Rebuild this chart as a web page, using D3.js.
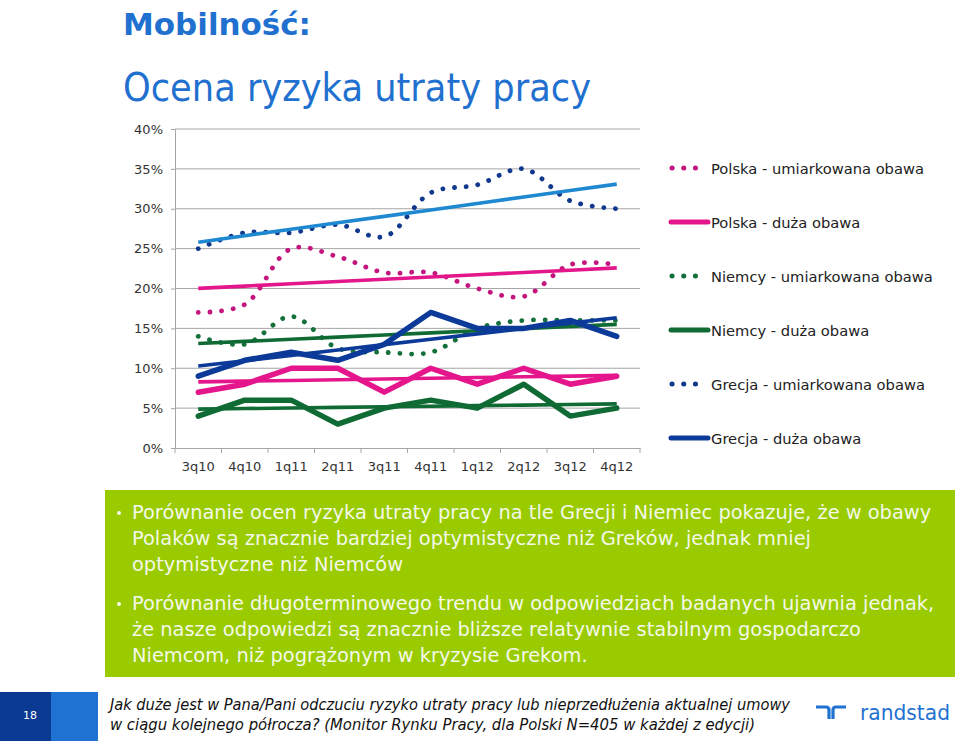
<!DOCTYPE html>
<html>
<head>
<meta charset="utf-8">
<script src="https://cdn.jsdelivr.net/npm/d3@7"></script>
<style>
  body { margin: 0; background: #fff; }
  svg { display: block; font-family: "DejaVu Sans", Verdana, sans-serif; }
</style>
</head>
<body>
<svg id="chart" width="959" height="741"></svg>
<script>
// quarters on the x axis
var categories = ["3q10", "4q10", "1q11", "2q11", "3q11", "4q11", "1q12", "2q12", "3q12", "4q12"];

// share of answers, in percent
var polskaUmiark = [17, 18, 25, 24, 22, 22, 20, 19, 23, 23];
var polskaDuza   = [7, 8, 10, 10, 7, 10, 8, 10, 8, 9];
var niemcyUmiark = [14, 13, 16.5, 12.5, 12, 12, 15, 16, 16, 16];
var niemcyDuza   = [4, 6, 6, 3, 5, 6, 5, 8, 4, 5];
var grecjaUmiark = [25, 27, 27, 28, 26.5, 32, 33, 35, 31, 30];
var grecjaDuza   = [9, 11, 12, 11, 13, 17, 15, 15, 16, 14];

var seriesNames = ["Polska - umiarkowana obawa", "Polska - duża obawa",
                   "Niemcy - umiarkowana obawa", "Niemcy - duża obawa",
                   "Grecja - umiarkowana obawa", "Grecja - duża obawa"];

var yTicks = [0, 5, 10, 15, 20, 25, 30, 35, 40];

var bullets = [
    ["Porównanie ocen ryzyka utraty pracy na tle Grecji i Niemiec pokazuje, że w obawy",
     "Polaków są znacznie bardziej optymistyczne niż Greków, jednak mniej",
     "optymistyczne niż Niemców"],
    ["Porównanie długoterminowego trendu w odpowiedziach badanych ujawnia jednak,",
     "że nasze odpowiedzi są znacznie bliższe relatywnie stabilnym gospodarczo",
     "Niemcom, niż pogrążonym w kryzysie Grekom."]
];

var footnote = ["Jak duże jest w Pana/Pani odczuciu ryzyko utraty pracy lub nieprzedłużenia aktualnej umowy",
                "w ciągu kolejnego półrocza?  (Monitor Rynku Pracy, dla Polski N=405 w każdej z edycji)"];

// styles per series (same order as seriesNames)
var series = [
    {name: seriesNames[0], values: polskaUmiark, color: "#c4157f", dotted: true,  trend: "#e4168c"},
    {name: seriesNames[1], values: polskaDuza,   color: "#e5168c", dotted: false, trend: "#e5168c"},
    {name: seriesNames[2], values: niemcyUmiark, color: "#13703a", dotted: true,  trend: "#0f6a34"},
    {name: seriesNames[3], values: niemcyDuza,   color: "#0f6a34", dotted: false, trend: "#0f6a34"},
    {name: seriesNames[4], values: grecjaUmiark, color: "#10388c", dotted: true,  trend: "#1e88d0"},
    {name: seriesNames[5], values: grecjaDuza,   color: "#0c3a99", dotted: false, trend: "#0c3a99"}
];

var svg = d3.select("#chart");

// ---- title
svg.append("text").attr("x", 123).attr("y", 35)
    .attr("font-size", 31).attr("font-weight", "bold").attr("fill", "#1f70cf")
    .attr("textLength", 188).attr("lengthAdjust", "spacingAndGlyphs")
    .text("Mobilność:");
svg.append("text").attr("x", 123).attr("y", 101)
    .attr("font-size", 39).attr("fill", "#1f70cf")
    .attr("textLength", 468).attr("lengthAdjust", "spacingAndGlyphs")
    .text("Ocena ryzyka utraty pracy");

// ---- chart
var x = d3.scaleBand().domain(categories).range([175, 640]);
var y = d3.scaleLinear().domain([0, 40]).range([448, 129]);

var g = svg.append("g");

g.selectAll("line.grid").data(yTicks.filter(function(d){ return d > 0; }))
    .enter().append("line").attr("class", "grid")
    .attr("x1", 175).attr("x2", 640)
    .attr("y1", function(d){ return y(d); }).attr("y2", function(d){ return y(d); })
    .attr("stroke", "#a6a6a6").attr("stroke-width", 1);

var yAxis = d3.axisLeft(y).tickValues(yTicks).tickFormat(function(d){ return d + "%"; }).tickSize(4).tickPadding(8);
var yg = g.append("g").attr("transform", "translate(175,0)").call(yAxis);
var xAxis = d3.axisBottom(x).tickSize(0).tickPadding(14);
var xg = g.append("g").attr("transform", "translate(0,448)").call(xAxis);

[yg, xg].forEach(function(a){
    a.selectAll("path, line").attr("stroke", "#a6a6a6");
    a.selectAll("text").attr("font-size", 13).attr("fill", "#333").attr("font-family", "DejaVu Sans");
});
// tick marks between the categories
g.selectAll("line.xtick").data(d3.range(categories.length + 1))
    .enter().append("line").attr("class", "xtick")
    .attr("x1", function(i){ return 175 + i * x.step(); })
    .attr("x2", function(i){ return 175 + i * x.step(); })
    .attr("y1", 448).attr("y2", 453).attr("stroke", "#a6a6a6");

var cx = function(d, i){ return x(categories[i]) + x.bandwidth() / 2; };

// least squares trend, the way the spreadsheet draws it
function trend(vals){
    var n = vals.length, mx = (n - 1) / 2, my = d3.mean(vals), sxy = 0, sxx = 0;
    vals.forEach(function(v, i){ sxy += (i - mx) * (v - my); sxx += (i - mx) * (i - mx); });
    var b = sxy / sxx, a = my - b * mx;
    return vals.map(function(v, i){ return a + b * i; });
}

var smooth = d3.line().x(cx).y(function(d){ return y(d); }).curve(d3.curveCatmullRom.alpha(0.5));
var straight = d3.line().x(cx).y(function(d){ return y(d); });

series.forEach(function(s){
    var p = g.append("path").datum(s.values)
        .attr("fill", "none").attr("stroke", s.color)
        .attr("stroke-linecap", "round").attr("stroke-linejoin", "round");
    if (s.dotted) {
        p.attr("d", smooth).attr("stroke-width", 4.8).attr("stroke-dasharray", "0.1 11.6");
    } else {
        p.attr("d", straight).attr("stroke-width", 5.5);
    }
    g.append("path").datum(trend(s.values))
        .attr("d", straight).attr("fill", "none")
        .attr("stroke", s.trend).attr("stroke-width", 3.6);
});

// ---- legend
var leg = svg.append("g").selectAll("g").data(series).enter().append("g")
    .attr("transform", function(d, i){ return "translate(668," + (168 + i * 54) + ")"; });
leg.each(function(s){
    var l = d3.select(this);
    if (s.dotted) {
        l.append("line").attr("x1", 4).attr("x2", 30).attr("y1", 0).attr("y2", 0)
            .attr("stroke", s.color).attr("stroke-width", 5).attr("stroke-linecap", "round")
            .attr("stroke-dasharray", "0.1 11.6");
    } else {
        l.append("line").attr("x1", 3).attr("x2", 40).attr("y1", 0).attr("y2", 0)
            .attr("stroke", s.color).attr("stroke-width", 5).attr("stroke-linecap", "round");
    }
    l.append("text").attr("x", 43).attr("y", 5.5).attr("font-size", 14.7).attr("fill", "#222")
        .text(s.name);
});

// ---- green box
svg.append("rect").attr("x", 105).attr("y", 490).attr("width", 850).attr("height", 187).attr("fill", "#99cb00");
var bg = svg.append("g");
bullets.forEach(function(lines, b){
    var top = 519 + b * 91;
    bg.append("circle").attr("cx", 119).attr("cy", top - 6).attr("r", 2).attr("fill", "#f4f8e8");
    lines.forEach(function(t, k){
        bg.append("text").attr("x", 132).attr("y", top + k * 26)
            .attr("font-size", 19.4).attr("fill", "#f4f8e8").text(t);
    });
});

// ---- footer
svg.append("rect").attr("x", 0).attr("y", 692).attr("width", 51).attr("height", 49).attr("fill", "#0b3a93");
svg.append("rect").attr("x", 51).attr("y", 692).attr("width", 47).attr("height", 49).attr("fill", "#1f71d2");
svg.append("text").attr("x", 30).attr("y", 719).attr("text-anchor", "middle")
    .attr("font-size", 11).attr("fill", "#fff").text("18");
var footLen = [680, 645];
footnote.forEach(function(t, k){
    svg.append("text").attr("x", 110).attr("y", 710 + k * 20)
        .attr("font-size", 16).attr("font-style", "italic").attr("fill", "#111")
        .attr("textLength", footLen[k]).attr("lengthAdjust", "spacingAndGlyphs").text(t);
});

// randstad logo
var logo = svg.append("g").attr("transform", "translate(816,705)").attr("fill", "none")
    .attr("stroke", "#1f71d2").attr("stroke-width", 3.2);
logo.append("path").attr("d", "M0,2 H10 Q13,2 13,5 V14");
logo.append("path").attr("d", "M30,2 H20 Q17,2 17,5 V14");
svg.append("text").attr("x", 860).attr("y", 720).attr("font-size", 22).attr("fill", "#1f71d2")
    .attr("textLength", 90).attr("lengthAdjust", "spacingAndGlyphs")
    .text("randstad");
</script>
</body>
</html>
